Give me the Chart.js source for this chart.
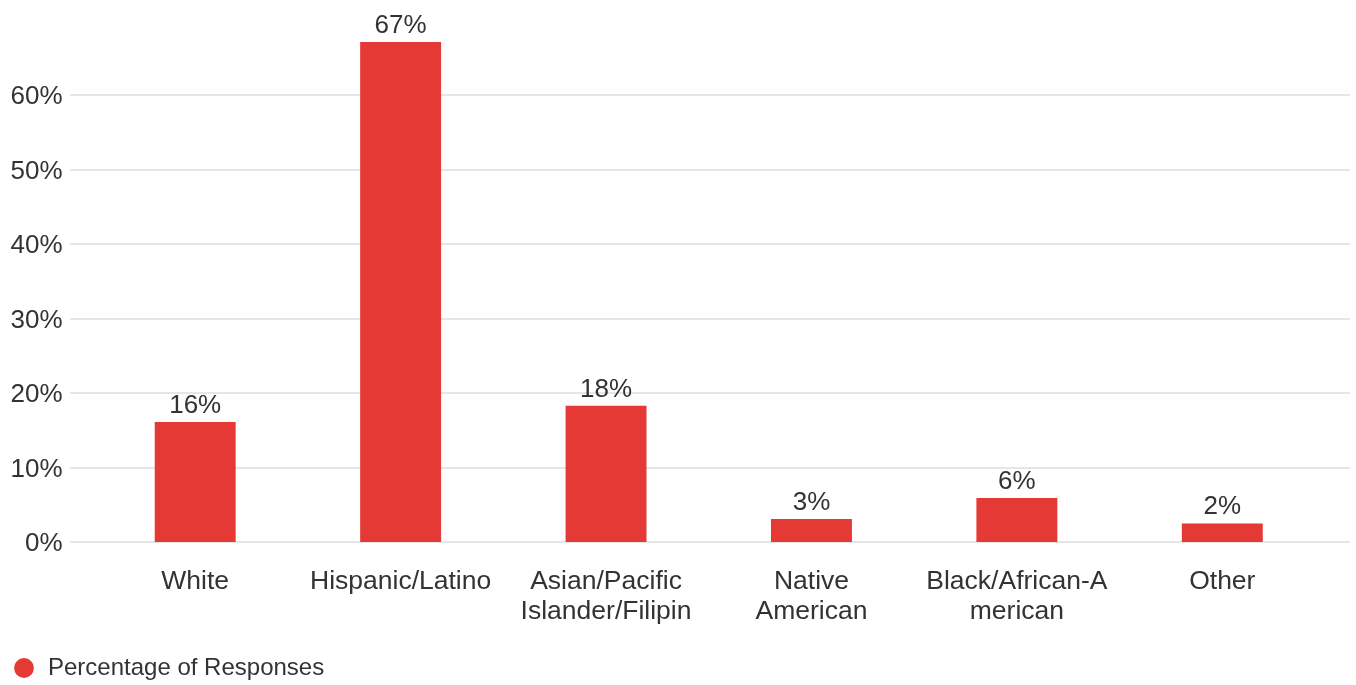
<!DOCTYPE html>
<html>
<head>
<meta charset="utf-8">
<script src="https://cdn.jsdelivr.net/npm/chart.js@4.4.1/dist/chart.umd.min.js"></script>
<style>
html,body{margin:0;padding:0;background:#fff;}
#wrap{position:relative;width:1356px;height:685px;}
</style>
</head>
<body>
<div id="wrap"><canvas id="c"></canvas></div>
<script>
const categories = ["White", "Hispanic/Latino", ["Asian/Pacific", "Islander/Filipin"], ["Native", "American"], ["Black/African-A", "merican"], "Other"];
const values = [16.1, 67.1, 18.3, 3.1, 5.9, 2.5];
const valueLabels = ["16%", "67%", "18%", "3%", "6%", "2%"];
const yTicks = [0, 10, 20, 30, 40, 50, 60];
const seriesName = "Percentage of Responses";

const FONT = "'Liberation Sans', Arial, sans-serif";
const TEXT = "#333333";
const RED = "#e53935";

const gridPlugin = {
  id: 'wideGrid',
  beforeDatasetsDraw(chart) {
    const y = chart.scales.y;
    const ctx = chart.ctx;
    ctx.save();
    ctx.strokeStyle = '#e6e6e6';
    ctx.lineWidth = 2;
    yTicks.forEach(v => {
      const py = Math.round(y.getPixelForValue(v));
      ctx.beginPath();
      ctx.moveTo(70, py);
      ctx.lineTo(1350, py);
      ctx.stroke();
    });
    ctx.restore();
  }
};

const labelPlugin = {
  id: 'valueLabels',
  afterDatasetsDraw(chart) {
    const ctx = chart.ctx;
    const meta = chart.getDatasetMeta(0);
    ctx.save();
    ctx.fillStyle = TEXT;
    ctx.font = "26px " + FONT;
    ctx.textAlign = 'center';
    ctx.textBaseline = 'alphabetic';
    meta.data.forEach((bar, i) => {
      ctx.fillText(valueLabels[i], bar.x, bar.y - 9);
    });
    ctx.restore();
  }
};

new Chart(document.getElementById('c'), {
  type: 'bar',
  data: {
    labels: categories,
    datasets: [{
      label: seriesName,
      data: values,
      backgroundColor: RED,
      borderWidth: 0,
      barPercentage: 0.394,
      categoryPercentage: 1
    }]
  },
  options: {
    responsive: true,
    maintainAspectRatio: false,
    animation: false,
    layout: { padding: { top: 20.5, right: 31, left: 0, bottom: -5 } },
    plugins: {
      tooltip: { enabled: false },
      legend: {
        position: 'bottom',
        align: 'start',
        labels: {
          usePointStyle: true,
          pointStyle: 'circle',
          boxWidth: 24,
          boxHeight: 14,
          padding: 12,
          color: TEXT,
          font: { family: FONT, size: 24 }
        }
      }
    },
    scales: {
      x: {
        grid: { display: false, drawTicks: false, tickLength: 0 },
        border: { display: false },
        ticks: {
          color: TEXT,
          font: { family: FONT, size: 26.5, lineHeight: 1.105 },
          padding: 25.5,
          maxRotation: 0,
          autoSkip: false
        },
        afterFit(scale) { scale.height = 102; }
      },
      y: {
        min: 0,
        max: 70,
        grid: { display: false, drawTicks: false, tickLength: 0 },
        border: { display: false },
        ticks: {
          stepSize: 10,
          color: TEXT,
          font: { family: FONT, size: 26 },
          padding: 30,
          labelOffset: 2,
          callback: v => (yTicks.includes(v) ? v + '%' : '')
        },
        afterFit(scale) {
          scale.width = 92.5;
          scale.paddingTop = 0;
          scale.paddingBottom = 0;
        }
      }
    }
  },
  plugins: [gridPlugin, labelPlugin]
});
</script>
</body>
</html>
